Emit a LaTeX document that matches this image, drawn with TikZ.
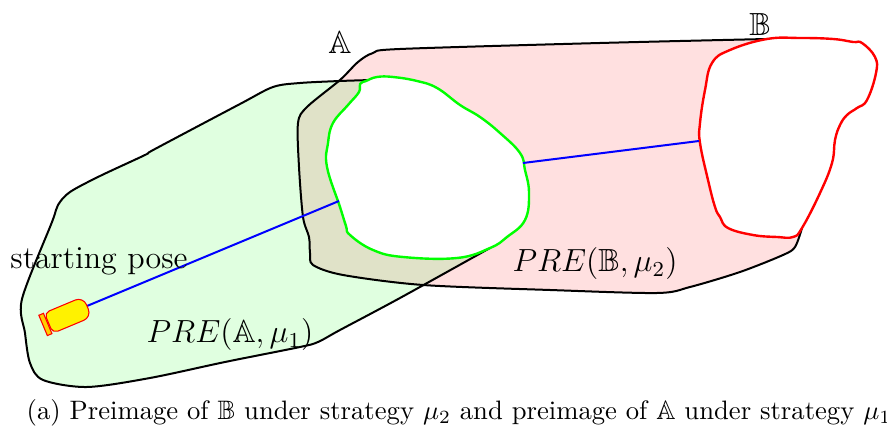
\documentclass[tikz,border=0pt]{standalone}
\usepackage{amssymb}

% Colors
\definecolor{regiona}{RGB}{224,255,224}
\definecolor{regionb}{RGB}{255,224,224}
\definecolor{overlap}{RGB}{224,226,200}
\definecolor{capcolor}{RGB}{255,205,0}

% Outlines, in pixels of the page
\def\outlineA{(372,80) (340,81) (300,83) (273,87) (240,104) (155,149) (145,155) (100,176) (70,192) (58,205) (52,222) (22,299) (25,333) (30,363) (43,380) (87,387) (150,378) (225,362) (300,347) (318,342) (340,330) (400,298) (490,248)}
\def\outlineB{(767,39) (600,43) (400,49) (373,53) (358,62) (340,80) (307,107) (298,123) (299,167) (303,217) (309,237) (310,253) (313,265) (343,275) (423,285) (550,290) (657,293) (690,287) (740,272) (783,255) (795,247) (802,228)}
\def\holeA{(360,84) (366,81) (377,77) (393,77) (417,81) (437,88) (460,105) (480,117) (500,133) (520,153) (525,170) (529,193) (525,220) (507,237) (490,248) (457,258) (403,257) (373,250) (350,235) (346,226) (340,207) (327,167) (328,143) (333,123) (348,105) (359,92)}
\def\holeB{(767,39) (800,38) (833,39) (853,42) (862,43) (875,57) (876,73) (867,100) (857,108) (847,115) (840,125) (835,140) (832,163) (820,193) (802,228) (793,237) (777,237) (753,235) (728,228) (720,217) (715,207) (708,180) (700,143) (700,123) (705,90) (712,63) (730,50)}

\tikzset{
    outline/.style={black, line width=0.75pt},
    holeline/.style={line width=0.9pt},
    ray/.style={blue, line width=0.75pt},
    robotline/.style={draw=red, line width=0.4pt}
}

\begin{document}
\begin{tikzpicture}[x=0.375pt, y=-0.375pt]
    \useasboundingbox (0,0) rectangle (887,426);

    % Fill the two regions and their overlap
    \fill[regiona] plot[smooth, tension=0.5] coordinates {\outlineA} -- cycle;
    \fill[regionb] plot[smooth, tension=0.5] coordinates {\outlineB} -- cycle;
    \begin{scope}
        \clip plot[smooth, tension=0.5] coordinates {\outlineA} -- cycle;
        \fill[overlap] plot[smooth, tension=0.5] coordinates {\outlineB} -- cycle;
    \end{scope}

    % Black borders
    \draw[outline] plot[smooth, tension=0.5] coordinates {\outlineA};
    \draw[outline] plot[smooth, tension=0.5] coordinates {\outlineB};

    % The two target sets
    \draw[holeline, green, fill=white] plot[smooth cycle, tension=0.7] coordinates {\holeA};
    \draw[holeline, red, fill=white] plot[smooth cycle, tension=0.7] coordinates {\holeB};

    % Helper coordinates on the robot and the set borders
    \coordinate (robotnose) at (87,306);
    \coordinate (holeAwest) at (339,201);
    \coordinate (holeAeast) at (523,163);
    \coordinate (holeBwest) at (699,141);

    % Rays
    \draw[ray] (robotnose) -- (holeAwest);
    \draw[ray] (holeAeast) -- (holeBwest);

    % Robot
    \begin{scope}[shift={(68,315)}, rotate=22.7]
        \filldraw[robotline, fill=yellow, rounded corners=2pt] (0,-11) -- (-21,-11) -- (-21,11) -- (0,11)
            [rounded corners=3.2pt] -- (21,11) -- (21,-11) -- cycle;
        \filldraw[robotline, fill=capcolor] (-27,-11) rectangle (-22,11);
    \end{scope}

    % Labels
    \node (labelA) at (340,42) {\large $\mathbb{A}$};
    \node (labelB) at (760,24) {\large $\mathbb{B}$};
    \node (labelpose) at (99,261) {\large starting pose};
    \node (labelpreA) at (230,335) {\large $PRE(\mathbb{A},\mu_1)$};
    \node (labelpreB) at (595,264) {\large $PRE(\mathbb{B},\mu_2)$};
    \node (labelcaption) at (459,413) {(a) Preimage of $\mathbb{B}$ under strategy $\mu_2$ and preimage of $\mathbb{A}$ under strategy $\mu_1$};
\end{tikzpicture}
\end{document}
